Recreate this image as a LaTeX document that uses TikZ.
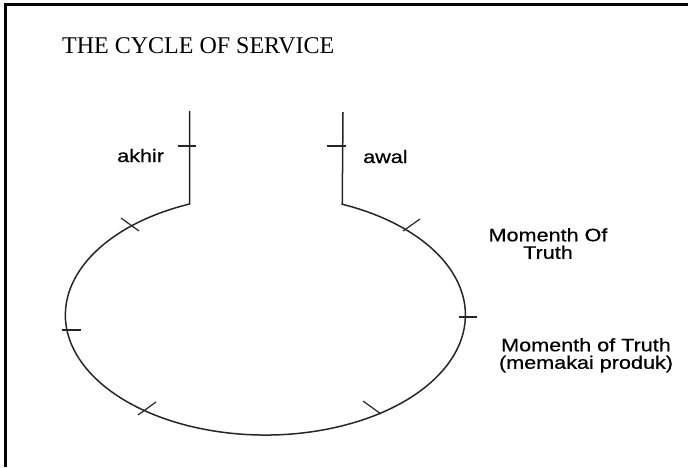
\documentclass[tikz,border=0pt]{standalone}
\usepackage{fontspec}
\setmainfont{Liberation Serif}
\newfontfamily\labelfont[FakeStretch=1.2,FakeBold=0.6]{Liberation Sans}

\begin{document}
\begin{tikzpicture}[x=1pt,y=-1pt,
  curve/.style={line width=1.5pt,black!85},
  tick/.style={line width=1.2pt,black!85},
  lbl/.style={inner sep=0pt,font=\labelfont\fontsize{18}{17.5}\selectfont},
  ttl/.style={inner sep=0pt,font=\fontsize{24}{26}\selectfont}]
\path[use as bounding box] (0,0) rectangle (688,467);
\draw[line width=2.2pt] (5.5,467)--(5.5,4.5)--(688,4.5);
\node[ttl,anchor=base west] (title) at (62,53) {THE CYCLE OF SERVICE};
\draw[curve] (189.5,111)--(189.5,204)
  arc[start angle=247.7,end angle=-67.4,x radius=200,y radius=120]
  --(343,112);
\draw[tick] (178,146)--(196,146);
\draw[tick] (327,146)--(346,146);
\draw[tick] (121,218)--(139,231);
\draw[tick] (403,231)--(420,219);
\draw[tick] (62,330)--(81,330);
\draw[tick] (459,317)--(477,317);
\draw[tick] (138,415)--(156,402);
\draw[tick] (363,401)--(381,414);
\node[lbl,anchor=base west] (akhir) at (117,162) {akhir};
\node[lbl,anchor=base west] (awal) at (363,163) {awal};
\node[lbl,anchor=north,align=center] (mot1) at (548,228) {Momenth Of\\Truth};
\node[lbl,anchor=north,align=center] (mot2) at (586,338) {Momenth of Truth\\(memakai produk)};
\end{tikzpicture}
\end{document}
